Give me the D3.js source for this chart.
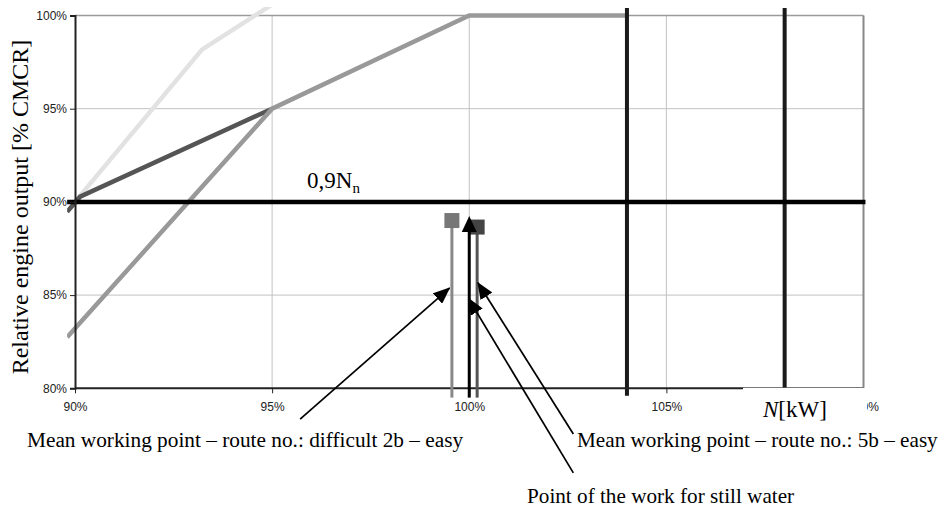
<!DOCTYPE html>
<html>
<head>
<meta charset="utf-8">
<script src="https://cdn.jsdelivr.net/npm/d3@7"></script>
<style>
  body { margin: 0; background: #fff; }
  svg { display: block; }
  .tick-label { font-family: "Liberation Sans", Arial, sans-serif; font-size: 12px; fill: #222; }
  .serif { font-family: "Liberation Serif", "Times New Roman", serif; fill: #000; }
</style>
</head>
<body>
<svg id="chart" width="949" height="508"></svg>
<script>
// axis ticks (%)
const xTicks = [90, 95, 100, 105, 110];
const yTicks = [80, 85, 90, 95, 100];

// characteristic curves [N %, output % CMCR]
const lightCurve = [[90, 90], [93.22, 98.17], [95.45, 101.2]];
const darkCurve = [[89.8, 89.47], [90.13, 90.28], [95, 95]];
const mediumCurve = [[89.8, 82.74], [95, 95], [100, 100], [104, 100]];

// limit lines
const limitN = [104, 108];
const limitOutput = 90;

// working points [N %, output %]
const meanDifficult = [99.56, 89.0];
const meanEasy = [100.2, 88.65];
const stillWater = [100, 89.24];

// annotation arrows: from [x, y] to [x, y] in chart units
const arrows = [
  [[95.71, 78.35], [99.5, 85.38]],
  [[102.64, 75.46], [99.98, 84.82]],
  [[102.64, 77.55], [100.22, 85.66]]
];

const labels = {
  yTitle: 'Relative engine output [% CMCR]',
  difficult: 'Mean working point \u2013 route no.: difficult 2b \u2013 easy',
  easy: 'Mean working point \u2013 route no.: 5b \u2013 easy',
  still: 'Point of the work for still water'
};

const svg = d3.select('#chart');
const x = d3.scaleLinear().domain([90, 110]).range([75, 863.5]);
const y = d3.scaleLinear().domain([80, 100]).range([388.3, 15.5]);

const defs = svg.append('defs');
defs.append('clipPath').attr('id', 'plotclip')
  .append('rect')
  .attr('x', x(89.8)).attr('y', y(100.45))
  .attr('width', x(110.1) - x(89.8))
  .attr('height', y(79.5) - y(100.45));
defs.append('marker')
  .attr('id', 'head')
  .attr('markerUnits', 'userSpaceOnUse')
  .attr('viewBox', '0 -7 17 14')
  .attr('markerWidth', 17).attr('markerHeight', 14)
  .attr('refX', 16).attr('refY', 0)
  .attr('orient', 'auto')
  .append('path').attr('d', 'M0,-7L17,0L0,7Z').attr('fill', '#000');

// gridlines
const grid = svg.append('g');
grid.selectAll('.gx').data(xTicks.slice(1, -1)).enter().append('line')
  .attr('x1', d => x(d)).attr('x2', d => x(d))
  .attr('y1', y(100)).attr('y2', y(80))
  .attr('stroke', '#c2c2c2').attr('stroke-width', 1);
grid.selectAll('.gy').data(yTicks.slice(1, -1)).enter().append('line')
  .attr('x1', x(90)).attr('x2', x(110))
  .attr('y1', d => y(d)).attr('y2', d => y(d))
  .attr('stroke', '#c2c2c2').attr('stroke-width', 1);

// frame top / right
svg.append('line').attr('x1', x(90)).attr('x2', x(110)).attr('y1', y(100)).attr('y2', y(100))
  .attr('stroke', '#9a9a9a').attr('stroke-width', 1.6);
svg.append('line').attr('x1', x(110)).attr('x2', x(110)).attr('y1', y(100)).attr('y2', y(80))
  .attr('stroke', '#888').attr('stroke-width', 2);

// curves
const line = d3.line().x(d => x(d[0])).y(d => y(d[1]));
const curves = svg.append('g').attr('clip-path', 'url(#plotclip)');
curves.append('path').datum(lightCurve).attr('d', line)
  .attr('fill', 'none').attr('stroke', '#e2e2e2').attr('stroke-width', 4.5);
curves.append('path').datum(darkCurve).attr('d', line)
  .attr('fill', 'none').attr('stroke', '#555').attr('stroke-width', 4.5);
curves.append('path').datum(mediumCurve).attr('d', line)
  .attr('fill', 'none').attr('stroke', '#999').attr('stroke-width', 4.5);

// limit lines
svg.selectAll('.limN').data(limitN).enter().append('line')
  .attr('x1', d => x(d)).attr('x2', d => x(d))
  .attr('y1', y(100.4)).attr('y2', y(79.6))
  .attr('stroke', '#1a1a1a').attr('stroke-width', 4);
svg.append('line')
  .attr('x1', x(89.8)).attr('x2', x(110.05))
  .attr('y1', y(limitOutput)).attr('y2', y(limitOutput))
  .attr('stroke', '#000').attr('stroke-width', 4.5);

// axes
const xAxis = svg.append('g').attr('transform', `translate(0,${y(80)})`)
  .call(d3.axisBottom(x).tickValues(xTicks).tickSize(5).tickFormat(d => d + '%'));
const yAxis = svg.append('g').attr('transform', `translate(${x(90)},0)`)
  .call(d3.axisLeft(y).tickValues(yTicks).tickSize(5).tickFormat(d => d + '%'));
[xAxis, yAxis].forEach(a => {
  a.select('.domain').attr('stroke', '#222').attr('stroke-width', 2);
  a.selectAll('.tick line').attr('stroke', '#222').attr('stroke-width', 1);
  a.selectAll('.tick text').attr('class', 'tick-label').attr('fill', null);
});
xAxis.selectAll('.tick text').attr('dy', '1.25em');
xAxis.select('.domain').attr('d', `M${x(90)},0H${x(110)}`);
yAxis.selectAll('.tick text').attr('x', -8);

// working point stems
const stems = [
  { p: meanDifficult, color: '#888', sq: '#777' },
  { p: meanEasy, color: '#555', sq: '#444' }
];
svg.selectAll('.stem').data(stems).enter().append('line')
  .attr('x1', d => x(d.p[0])).attr('x2', d => x(d.p[0]))
  .attr('y1', d => y(d.p[1])).attr('y2', y(79.5))
  .attr('stroke', d => d.color).attr('stroke-width', 3);
svg.selectAll('.sq').data(stems).enter().append('rect')
  .attr('x', d => x(d.p[0]) - 7.5).attr('y', d => y(d.p[1]) - 7.5)
  .attr('width', 15).attr('height', 15)
  .attr('fill', d => d.sq);

// still water arrow
svg.append('line')
  .attr('x1', x(stillWater[0])).attr('x2', x(stillWater[0]))
  .attr('y1', y(79.5)).attr('y2', y(stillWater[1]) + 12)
  .attr('stroke', '#000').attr('stroke-width', 3);
svg.append('path')
  .attr('d', `M${x(stillWater[0])},${y(stillWater[1])}l7.5,16h-15Z`)
  .attr('fill', '#000');

// annotation arrows
svg.selectAll('.ann').data(arrows).enter().append('line')
  .attr('x1', d => x(d[0][0])).attr('y1', d => y(d[0][1]))
  .attr('x2', d => x(d[1][0])).attr('y2', d => y(d[1][1]))
  .attr('stroke', '#000').attr('stroke-width', 1.7)
  .attr('marker-end', 'url(#head)');

// 0,9Nn label
const nn = svg.append('text').attr('class', 'serif')
  .attr('x', 307).attr('y', 188).attr('font-size', 23);
nn.append('tspan').text('0,9N');
nn.append('tspan').attr('font-size', 15).attr('dy', 5).text('n');

// y title
svg.append('text').attr('class', 'serif')
  .attr('transform', 'translate(28,207) rotate(-90)')
  .attr('text-anchor', 'middle').attr('font-size', 24)
  .text(labels.yTitle);

// annotation labels
svg.append('text').attr('class', 'serif').attr('x', 27).attr('y', 447)
  .attr('font-size', 21.3).text(labels.difficult);
svg.append('text').attr('class', 'serif').attr('x', 577).attr('y', 447)
  .attr('font-size', 21.2).text(labels.easy);
svg.append('text').attr('class', 'serif').attr('x', 527).attr('y', 503)
  .attr('font-size', 21.2).text(labels.still);

// axis name box covering the end of the x axis
svg.append('rect').attr('x', 743).attr('y', y(80) - 0.5)
  .attr('width', 124).attr('height', 36).attr('fill', '#fff');
const nkw = svg.append('text').attr('class', 'serif')
  .attr('x', 763).attr('y', 417).attr('font-size', 23);
nkw.append('tspan').attr('font-style', 'italic').text('N');
nkw.append('tspan').text('[kW]');
</script>
</body>
</html>
